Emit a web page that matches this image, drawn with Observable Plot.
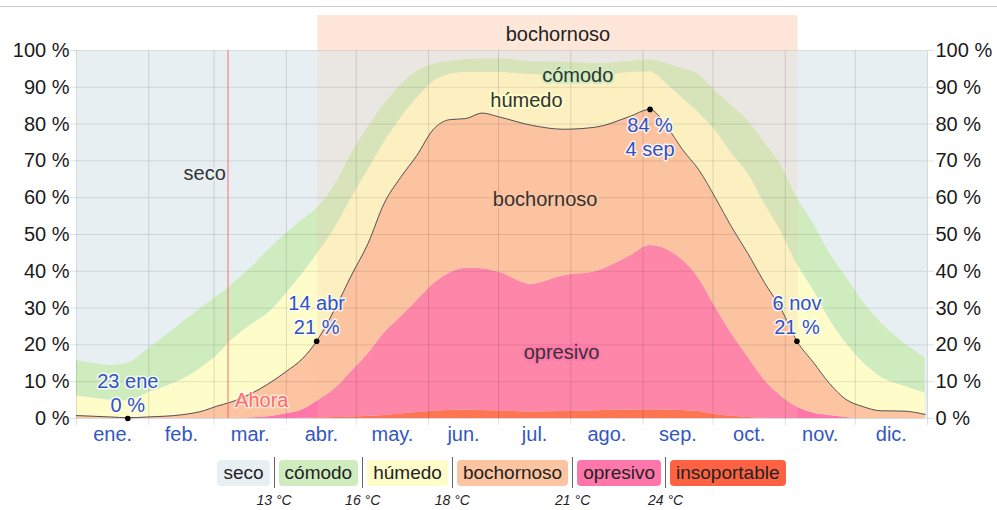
<!DOCTYPE html>
<html>
<head>
<meta charset="utf-8">
<script src="https://cdn.jsdelivr.net/npm/d3@7"></script>
<script src="https://cdn.jsdelivr.net/npm/@observablehq/plot@0.6"></script>
<style>
  html, body { margin: 0; padding: 0; background: #fff; }
  body { width: 997px; height: 510px; position: relative; overflow: hidden; font-family: "Liberation Sans", Arial, sans-serif; }
  #sep { position: absolute; left: 0; top: 6px; width: 997px; height: 1px; background: #c8c8c8; }
  #chart { position: absolute; left: 0; top: 0; }
  #legend { position: absolute; left: 0; top: 457px; width: 997px; display: flex; justify-content: center; align-items: center; padding-left: 6px; box-sizing: border-box; }
  .item { font-size: 19px; line-height: 26px; height: 26px; padding: 0 6px; border-radius: 4px; color: #222; }
  .div { position: relative; width: 1px; height: 31px; background: #666; margin: 0 4px; }
  .div span { position: absolute; top: 35px; left: 50%; transform: translateX(-50%); font-size: 14px; font-style: italic; white-space: nowrap; color: #222; }
</style>
</head>
<body>
<div id="sep"></div>
<div id="chart"></div>
<div id="legend"></div>
<script>
// Día del año (0 = 1 ene)
const dias = [0,15,22,30,45,55,60,66,75,82,90,97,103,111,118,125,132,139,146,153,160,167,174,181,195,209,223,237,246,253,260,267,274,281,288,295,302,309,316,323,330,337,345,355,364];
// Porcentaje acumulado (desde abajo) hasta el techo de cada nivel
const hastaInsoportable = [0,0,0,0,0,0,0,0,0,0,0,0.1,0.2,0.3,0.4,0.6,0.8,1.2,1.6,2.0,2.2,2.3,2.2,2.1,1.8,1.9,2.1,2.3,2.4,2.3,2.2,1.9,1.1,0.6,0.3,0.1,0,0,0,0,0,0,0,0,0];
const hastaOpresivo = [0,0,0,0,0,0,0,0,0.2,0.5,1.3,2.4,4.6,8.2,12.8,17.5,23.2,27.5,32,36.5,39.5,40.8,40.7,39.8,36.5,38.8,40,44,47,46,43,38,30.3,23,16.7,10.5,6.2,3.2,1.5,0.8,0.3,0,0,0,0];
const hastaBochornoso = [0.8,0.4,0.2,0.4,1.0,2.2,3.3,4.4,6.8,9.3,12.8,16.3,21,30,39,47.5,58.5,65.5,71.5,78.5,81.2,81.5,83,82,79.7,78.6,79.2,82,84,79.5,73,67.5,60,52,44.8,37,30,21,15.3,9.5,5.2,3.3,2.1,2.0,1.1];
const hastaHumedo = [6.2,5.0,4.8,6.8,10.5,14.5,17,21,25.5,28.5,34,39.5,44.5,52,60,67.5,75,81.5,87,91.5,93.5,94,94,94,93.5,93.2,93,94,94.2,91,87,83,78.3,72,66.6,58.5,51,42,35,27,20.5,15.5,11.3,8.8,6.9];
const hastaComodo = [15.8,14.4,15,18.5,25.8,30.7,33,36,41,45.6,50.3,54,57,63.5,72,79,85.3,90.5,94.3,96.2,97,97.5,97.7,97.7,97,96.8,96.5,97,97.4,96.5,95,93.5,89,85,81,75,69,60,53,45,38.5,32,26,20.5,16.5];

const niveles = ["seco","cómodo","húmedo","bochornoso","opresivo","insoportable"];
const colores = ["#e7eff3","#cfecbf","#fefcc8","#fcc4a0","#ff77aa","#ff6242"];
const temperaturas = ["13 °C","16 °C","18 °C","21 °C","24 °C"];

const meses = ["ene.","feb.","mar.","abr.","may.","jun.","jul.","ago.","sep.","oct.","nov.","dic."];
const inicioMes = [0,31,59,90,120,151,181,212,243,273,304,334,365];

// Anotaciones
const anotDia = [22,103,246,309];
const anotValor = [0,21,84,21];
const anotTexto = ["23 ene\n0 %","14 abr\n21 %","84 %\n4 sep","6 nov\n21 %"];
const anotArriba = [true,true,false,true];

// Periodo bochornoso
const periodoInicio = 103.5, periodoFin = 309.5;
const ahoraDia = 65;

// Etiquetas de niveles
const etiquetas = [
  {t:"seco", dia:55, v:66.6, halo:"#e7eff3"},
  {t:"cómodo", dia:215, v:93.3, halo:"#cfecbf"},
  {t:"húmedo", dia:193, v:86.4, halo:"#fefcc8"},
  {t:"bochornoso", dia:201, v:59.5, halo:"#fcc4a0"},
  {t:"opresivo", dia:208, v:18, halo:"#ff77aa"}
];

const filas = dias.map((d,i) => ({
  dia: d,
  l0: 0,
  l1: hastaInsoportable[i],
  l2: hastaOpresivo[i],
  l3: hastaBochornoso[i],
  l4: hastaHumedo[i],
  l5: hastaComodo[i]
}));
const bandas = [
  ["l0","l1",colores[5]],
  ["l1","l2",colores[4]],
  ["l2","l3",colores[3]],
  ["l3","l4",colores[2]],
  ["l4","l5",colores[1]]
];
const mitadMes = meses.map((m,i) => (inicioMes[i] + inicioMes[i+1]) / 2);
const anot = anotDia.map((d,i) => ({dia:d, v:anotValor[i], t:anotTexto[i], arriba:anotArriba[i]}));
const periodo = [{a: periodoInicio, b: periodoFin, t: "bochornoso"}];

const plot = Plot.plot({
  width: 997,
  height: 455,
  marginLeft: 76,
  marginRight: 70,
  marginTop: 50,
  marginBottom: 37,
  style: {fontFamily: "'Liberation Sans', Arial, sans-serif", fontSize: "20px", background: "transparent"},
  x: {domain: [0, 365], axis: null},
  y: {domain: [0, 100], axis: null},
  marks: [
    Plot.frame({fill: colores[0], stroke: null}),
    ...bandas.map(([a,b,c]) => Plot.areaY(filas, {x: "dia", y1: a, y2: b, fill: c, curve: "monotone-x"})),
    // franja superior del periodo bochornoso
    Plot.rect(periodo, {x1: "a", x2: "b", y1: 100, y2: 100, insetTop: -35, fill: colores[3], fillOpacity: 0.4}),
    Plot.rect(periodo, {x1: "a", x2: "b", fill: colores[3], fillOpacity: 0.2}),
    Plot.text(periodo, {x: d => (d.a + d.b) / 2, y: 100, text: "t", dy: -16, fill: "#222", fontSize: 20}),
    Plot.gridY(d3.range(0, 101, 10), {stroke: "#000", strokeOpacity: 0.1}),
    Plot.gridX(inicioMes, {stroke: "#000", strokeOpacity: 0.12}),
    Plot.axisX(inicioMes, {tickSize: 7, tickFormat: () => "", stroke: "#000", strokeOpacity: 0.12}),
    Plot.axisX(mitadMes, {tickSize: 0, tickPadding: 8, tickFormat: d => meses[mitadMes.indexOf(d)], fill: "#3457c2", fontSize: 20}),
    Plot.axisY(d3.range(0, 101, 10), {anchor: "left", tickSize: 6, tickPadding: 1, tickFormat: d => d + " %", fill: "#1a1a1a", stroke: "#000", strokeOpacity: 0.12, fontSize: 20}),
    Plot.axisY(d3.range(0, 101, 10), {anchor: "right", tickSize: 6, tickPadding: 2, tickFormat: d => d + " %", fill: "#1a1a1a", stroke: "#000", strokeOpacity: 0.12, fontSize: 20}),
    Plot.line(filas, {x: "dia", y: "l3", stroke: "#555", strokeWidth: 1, curve: "monotone-x"}),
    Plot.ruleX([ahoraDia], {stroke: "#ff5a5a", strokeOpacity: 0.45, strokeWidth: 2}),
    Plot.text([ahoraDia], {x: d => d, y: 4.9, text: () => "Ahora", textAnchor: "start", dx: 7, fill: "#ff6b6b", stroke: "#fff", strokeOpacity: 0.6, strokeWidth: 3, fontSize: 20}),
    Plot.text(etiquetas, {x: "dia", y: "v", text: "t", fill: "#333", stroke: "halo", strokeWidth: 4, fontSize: 20}),
    Plot.text(anot.filter(d => d.arriba), {x: "dia", y: "v", text: "t", lineAnchor: "bottom", dy: -7, lineHeight: 1.2, fill: "#2f52c6", stroke: "#fff", strokeOpacity: 0.8, strokeWidth: 3, fontSize: 20}),
    Plot.text(anot.filter(d => !d.arriba), {x: "dia", y: "v", text: "t", lineAnchor: "top", dy: 6, lineHeight: 1.2, fill: "#2f52c6", stroke: "#fff", strokeOpacity: 0.8, strokeWidth: 3, fontSize: 20}),
    Plot.dot(anot, {x: "dia", y: "v", r: 2.8, fill: "#000"})
  ]
});
document.getElementById("chart").appendChild(plot);

// Leyenda
const leg = document.getElementById("legend");
niveles.forEach((n, i) => {
  const s = document.createElement("div");
  s.className = "item";
  s.style.background = colores[i];
  s.textContent = n;
  leg.appendChild(s);
  if (i < temperaturas.length) {
    const dv = document.createElement("div");
    dv.className = "div";
    const sp = document.createElement("span");
    sp.textContent = temperaturas[i];
    dv.appendChild(sp);
    leg.appendChild(dv);
  }
});
</script>
</body>
</html>
